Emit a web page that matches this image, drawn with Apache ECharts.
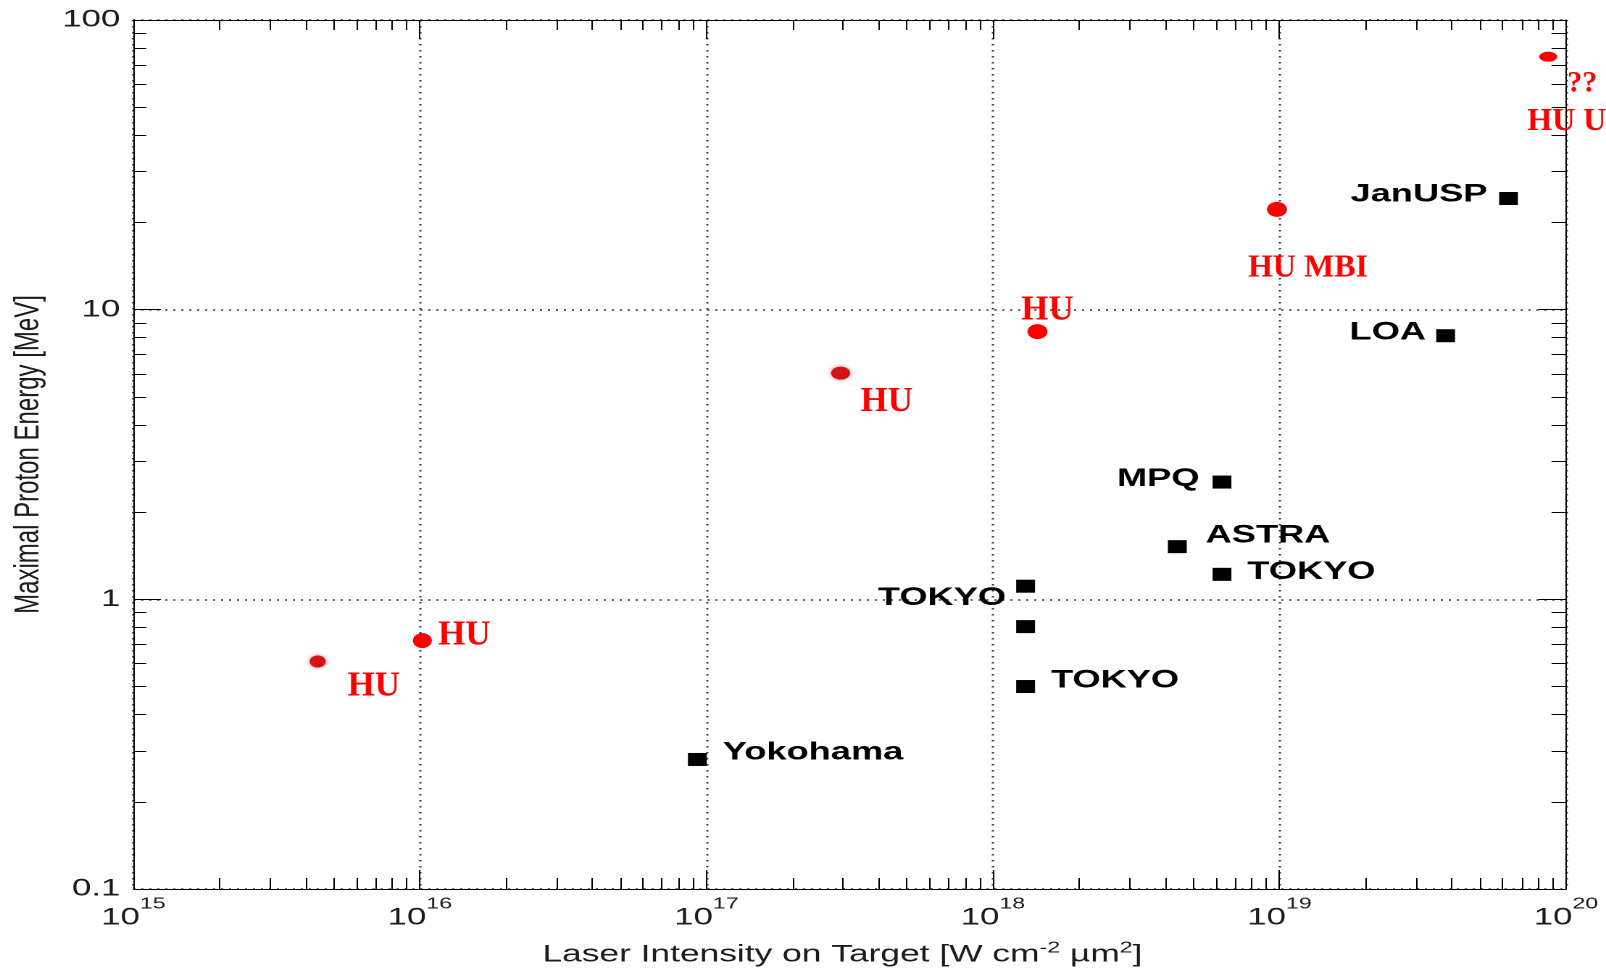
<!DOCTYPE html>
<html>
<head>
<meta charset="utf-8">
<title>Maximal Proton Energy vs Laser Intensity</title>
<script src="https://cdn.jsdelivr.net/npm/echarts@6/dist/echarts.min.js"></script>
<style>
  html, body { margin: 0; padding: 0; background: #ffffff; width: 1606px; height: 968px; overflow: hidden; }
  /* the figure is laid out narrow and widened horizontally as a whole */
  #chart { width: 1108px; height: 968px; transform: scaleX(1.449458); transform-origin: 0 0; }
</style>
</head>
<body>
<div id="chart"></div>
<script>
// ---- data ----------------------------------------------------------------
// other laboratories (black squares)
const labNames = ['Yokohama', 'TOKYO', '', 'TOKYO', 'ASTRA', 'TOKYO', 'MPQ', 'LOA', 'JanUSP'];
const labIntensity = [9.3e16, 1.3e18, 1.3e18, 1.3e18, 4.4e18, 6.3e18, 6.3e18, 3.8e19, 6.3e19];
const labEnergy = [0.28, 1.11, 0.805, 0.50, 1.52, 1.22, 2.54, 8.13, 24.2];

// HU results (red marks)
const huIntensity = [4.4e15, 1.02e16, 2.94e17, 1.43e18, 9.8e18, 8.67e19];
const huEnergy = [0.61, 0.72, 6.04, 8.4, 22.2, 74.7];
const huLabels = [['HU'], ['HU'], ['HU'], ['HU'], ['HU MBI'], ['??', 'HU U']];

// axis ranges
const xRange = [1e15, 1e20];
const yRange = [0.1, 100];

// ---- layout / styles -------------------------------------------------------
const S = 1606 / 1108;            // horizontal widening of the whole figure
const sansFont = '"Liberation Sans", Arial, sans-serif';
const serifFont = '"Liberation Serif", "Times New Roman", serif';

// where each black label sits relative to its square
const labLabelLayout = [
  { side: 'right', gap: 11, dy: -7 },
  { side: 'left', gap: 7, dy: 12 },
  null,
  { side: 'right', gap: 11, dy: -6 },
  { side: 'right', gap: 13, dy: -11 },
  { side: 'right', gap: 11, dy: -2 },
  { side: 'left', gap: 9, dy: -3 },
  { side: 'left', gap: 7, dy: -3 },
  { side: 'left', gap: 8, dy: -4 }
];

// red marks: size on screen, colour, and label offsets (screen pixels)
const huMarkStyle = [
  { w: 16, h: 12, color: '#d41414', soft: true, text: [{ dx: 56, dy: 25, size: 35, align: 'center' }] },
  { w: 19, h: 15, color: '#ff0000', soft: false, text: [{ dx: 42, dy: -5, size: 35, align: 'center' }] },
  { w: 19, h: 13, color: '#d41414', soft: true, text: [{ dx: 46, dy: 29, size: 35, align: 'center' }] },
  { w: 20, h: 15, color: '#ff0000', soft: false, text: [{ dx: 10, dy: -21, size: 35, align: 'center' }] },
  { w: 20, h: 15, color: '#ff0000', soft: false, text: [{ dx: 31, dy: 59, size: 32, align: 'center' }] },
  { w: 18, h: 10, color: '#ff0000', soft: false, text: [{ dx: 34, dy: 27, size: 30, align: 'center' }, { dx: -21, dy: 65, size: 32, align: 'left' }] }
];

// ---- option -----------------------------------------------------------------
const chart = echarts.init(document.getElementById('chart'), null, { renderer: 'canvas', devicePixelRatio: 2 });

const frameLine = { show: true, lineStyle: { color: '#000', width: 1 } };

function mirrorAxis(base) {
  return Object.assign({
    axisLine: frameLine,
    axisLabel: { show: false },
    splitLine: { show: false },
    axisTick: { show: true, inside: true, length: 19, lineStyle: { color: '#000', width: 1 } },
    minorTick: { show: true, splitNumber: 9, length: 10, lineStyle: { color: '#000', width: 1 } },
    minorSplitLine: { show: false }
  }, base);
}

const labData = labIntensity.map(function (x, i) {
  const lay = labLabelLayout[i];
  const item = { value: [x, labEnergy[i]], name: labNames[i] };
  if (lay) {
    item.label = { show: true, position: lay.side, distance: lay.gap, offset: [0, lay.dy], formatter: '{b}' };
  } else {
    item.label = { show: false };
  }
  return item;
});

const huData = huIntensity.map(function (x, i) { return [x, huEnergy[i]]; });

const option = {
  backgroundColor: '#ffffff',
  animation: false,
  grid: { left: 92, right: 27.6, top: 20, bottom: 79, outerBoundsMode: 'none', containLabel: false },
  xAxis: [
    {
      type: 'log', logBase: 10, min: xRange[0], max: xRange[1], splitNumber: 5,
      position: 'bottom',
      name: 'Laser Intensity on Target [W cm{s|-2} µm{s|2}]',
      nameLocation: 'middle', nameGap: 51,
      nameTextStyle: {
        fontFamily: sansFont, fontSize: 24.4, color: '#1c1c1c', lineHeight: 30,
        padding: [0, 10, 0, 0],
        rich: { s: { fontFamily: sansFont, fontSize: 16, lineHeight: 16, verticalAlign: 'top', color: '#1c1c1c' } }
      },
      axisLine: frameLine,
      axisTick: { show: true, inside: true, length: 19, lineStyle: { color: '#000', width: 1 } },
      minorTick: { show: true, splitNumber: 9, length: 11, lineStyle: { color: '#000', width: 1 } },
      splitLine: { show: true, lineStyle: { color: '#3a3a3a', width: 1.5, type: [1.5, 4.5] } },
      minorSplitLine: { show: false },
      axisLabel: {
        margin: 7,
        showMinLabel: true, showMaxLabel: true,
        formatter: function (v) { return '{b|10}{s|' + Math.round(Math.log10(v)) + '}'; },
        rich: {
          b: { fontFamily: sansFont, fontSize: 24, lineHeight: 34, verticalAlign: 'bottom', color: '#1c1c1c' },
          s: { fontFamily: sansFont, fontSize: 16, lineHeight: 16, verticalAlign: 'top', color: '#1c1c1c' }
        }
      }
    },
    mirrorAxis({ type: 'log', logBase: 10, min: xRange[0], max: xRange[1], splitNumber: 5, position: 'top' })
  ],
  yAxis: [
    {
      type: 'log', logBase: 10, min: yRange[0], max: yRange[1], splitNumber: 3,
      position: 'left',
      name: 'Maximal Proton Energy [MeV]',
      nameLocation: 'middle', nameGap: 58,
      nameTextStyle: { fontFamily: sansFont, fontSize: 24, color: '#1c1c1c', lineHeight: 24 },
      axisLine: frameLine,
      axisTick: { show: true, inside: true, length: 19, lineStyle: { color: '#000', width: 1 } },
      minorTick: { show: true, splitNumber: 9, length: 9, lineStyle: { color: '#000', width: 1 } },
      splitLine: { show: true, lineStyle: { color: '#3a3a3a', width: 1.5, type: [1.5, 4] } },
      minorSplitLine: { show: false },
      axisLabel: {
        margin: 9,
        showMinLabel: true, showMaxLabel: true,
        fontFamily: sansFont, fontSize: 24, color: '#1c1c1c',
        formatter: function (v) { return String(Number(v.toPrecision(3))); }
      }
    },
    mirrorAxis({ type: 'log', logBase: 10, min: yRange[0], max: yRange[1], splitNumber: 3, position: 'right' })
  ],
  series: [
    {
      name: 'Other laboratories',
      type: 'scatter',
      xAxisIndex: 0, yAxisIndex: 0,
      symbol: 'rect',
      symbolSize: 13,
      itemStyle: { color: '#000000', opacity: 1 },
      label: { fontFamily: sansFont, fontSize: 25, fontWeight: 'bold', color: '#000000' },
      data: labData,
      z: 3
    },
    {
      name: 'HU',
      type: 'custom',
      xAxisIndex: 0, yAxisIndex: 0,
      coordinateSystem: 'cartesian2d',
      encode: { x: 0, y: 1 },
      clip: false,
      data: huData,
      z: 4,
      renderItem: function (params, api) {
        const i = params.dataIndex;
        const p = api.coord([api.value(0), api.value(1)]);
        const st = huMarkStyle[i];
        const children = [{
          type: 'ellipse',
          shape: { cx: p[0], cy: p[1], rx: st.w / 2 / S, ry: st.h / 2 },
          style: st.soft
            ? { fill: st.color, shadowBlur: 3, shadowColor: 'rgba(200,20,20,0.6)' }
            : { fill: st.color }
        }];
        huLabels[i].forEach(function (txt, k) {
          const t = st.text[k];
          children.push({
            type: 'text',
            x: p[0] + t.dx / S,
            y: p[1] + t.dy,
            scaleX: 1 / S,
            style: {
              text: txt,
              fill: '#ff0000',
              fontFamily: serifFont,
              fontWeight: 'bold',
              fontSize: t.size,
              align: t.align,
              verticalAlign: 'middle'
            }
          });
        });
        return { type: 'group', children: children };
      }
    }
  ]
};

chart.setOption(option);
</script>
</body>
</html>
